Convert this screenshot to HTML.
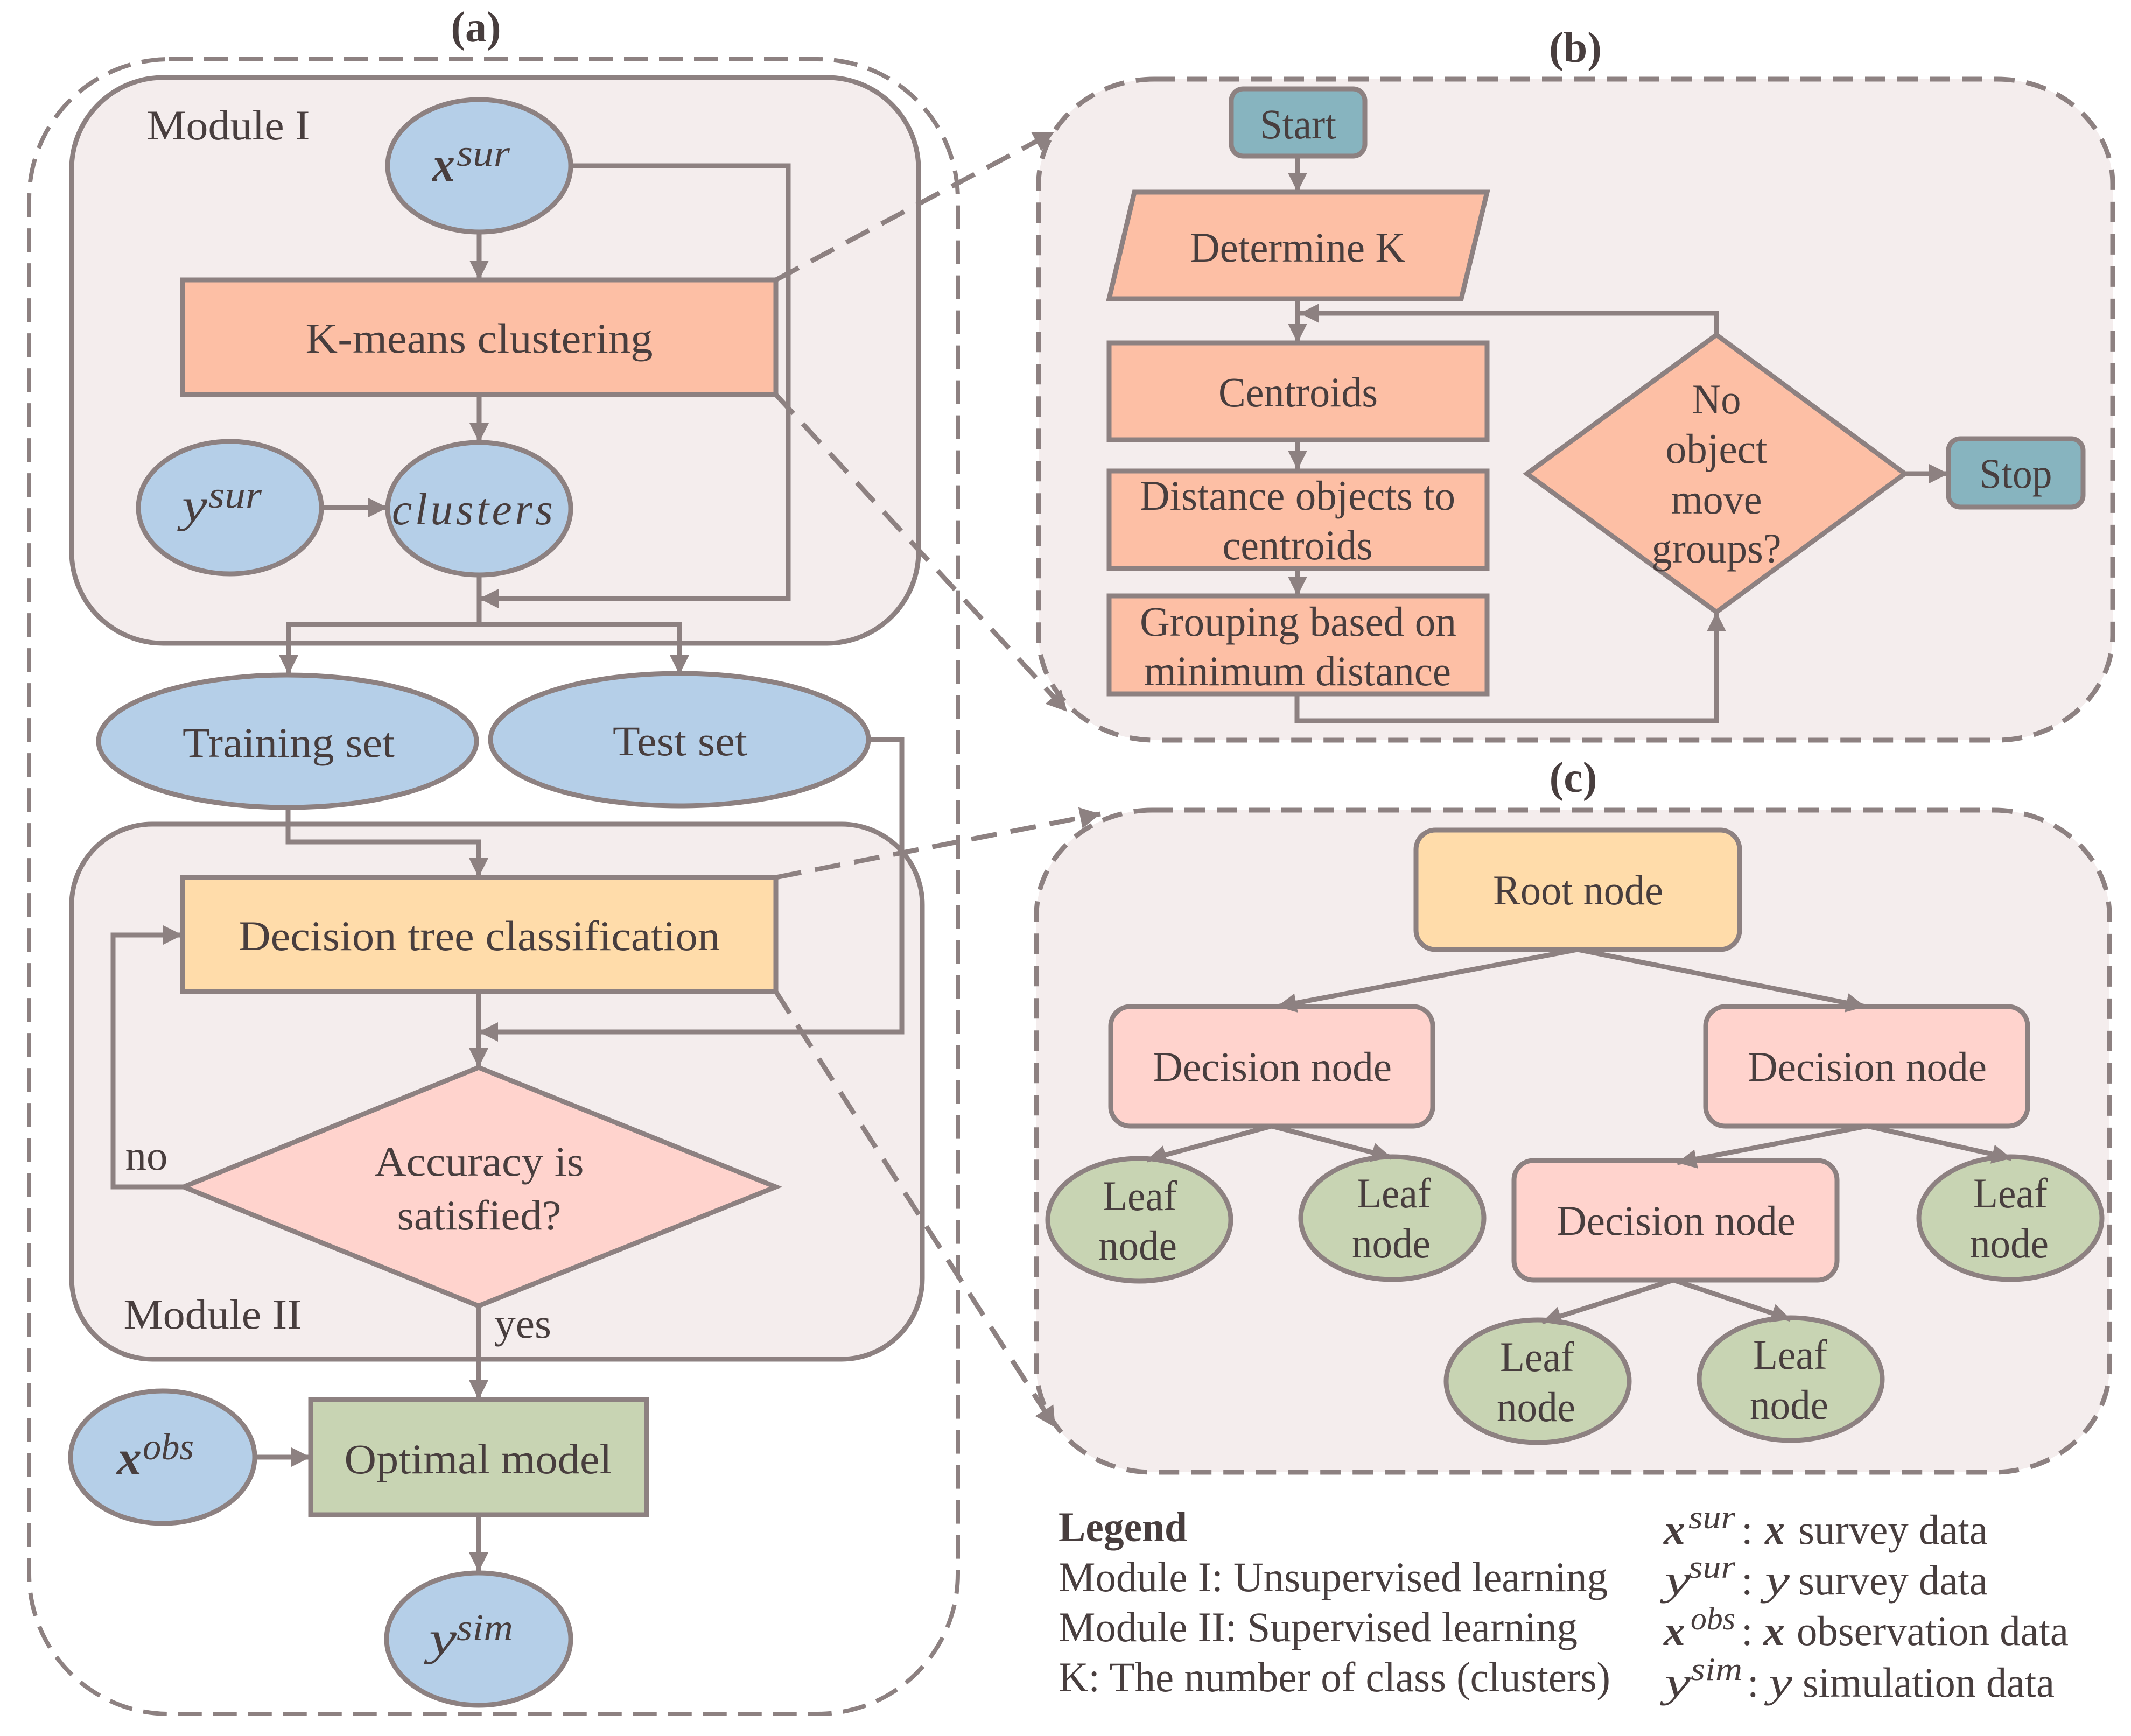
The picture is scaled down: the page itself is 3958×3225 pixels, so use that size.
<!DOCTYPE html>
<html>
<head>
<meta charset="utf-8">
<style>
html,body{margin:0;padding:0;background:#fff;width:3958px;height:3225px;overflow:hidden}
svg{display:block}
text{font-family:"Liberation Serif",serif;fill:#483e3e;font-size:78px;text-anchor:middle}
.l{text-anchor:start}
.b{font-weight:bold}
.bi{font-weight:bold;font-style:italic;text-anchor:start}
.i{font-style:italic;text-anchor:start}
.s{stroke:#8d8181;stroke-width:9;fill:none}
.a{marker-end:url(#arr)}
.d{stroke:#8d8181;stroke-width:9;fill:none;stroke-dasharray:48 26;marker-end:url(#arr2)}
.blue{fill:#b5cfe8}.org{fill:#fdbfa5}.yel{fill:#ffdcaa}.pnk{fill:#ffd3cd}.grn{fill:#c8d4b3}.tea{fill:#87b4bf}.pan{fill:#f4eded}
</style>
</head>
<body>
<svg width="3958" height="3225" viewBox="0 0 3958 3225" xmlns="http://www.w3.org/2000/svg">
<defs>
<marker id="arr" markerUnits="userSpaceOnUse" markerWidth="44" markerHeight="40" refX="36" refY="18" orient="auto"><path d="M0 0L36 18L0 36Z" fill="#8d8181"/></marker>
<marker id="arr2" markerUnits="userSpaceOnUse" markerWidth="44" markerHeight="44" refX="38" refY="20" orient="auto"><path d="M0 0L38 20L0 40Z" fill="#8d8181"/></marker>
</defs>
<rect width="3958" height="3225" fill="#fff"/>

<!-- outer a -->
<rect x="54" y="110" width="1725" height="3074" rx="260" ry="260" fill="none" stroke="#8d8181" stroke-width="8" stroke-dasharray="44 21"/>

<!-- panels b c -->
<rect x="1929" y="147" width="1995" height="1228" rx="215" ry="195" class="pan" stroke="#8d8181" stroke-width="9" stroke-dasharray="38 22"/>
<rect x="1925" y="1505" width="1993" height="1230" rx="215" ry="195" class="pan" stroke="#8d8181" stroke-width="9" stroke-dasharray="38 22"/>

<!-- module I -->
<rect x="133" y="144" width="1573" height="1051" rx="170" ry="170" class="pan s"/>
<!-- module II -->
<rect x="133" y="1531" width="1580" height="994" rx="150" ry="150" class="pan s"/>

<!-- module I connectors -->
<path class="s a" d="M890 431V520"/>
<path class="s a" d="M890 733V822"/>
<path class="s a" d="M597 943H720"/>
<path class="s" d="M890 1068V1160"/>
<path class="s a" d="M1060 308H1464V1112H890"/>
<path class="s a" d="M890 1160H536V1253"/>
<path class="s a" d="M890 1160H1262V1253"/>

<ellipse cx="890" cy="308" rx="170" ry="123" class="blue s"/>
<ellipse cx="890" cy="945" rx="170" ry="123" class="blue s"/>
<ellipse cx="427" cy="943" rx="170" ry="123" class="blue s"/>
<rect x="339" y="520" width="1102" height="213" class="org s"/>

<!-- set ellipses + module II connectors -->
<path class="s a" d="M535 1500V1564H889V1630"/>
<path class="s a" d="M1612 1374H1675V1917H889"/>
<path class="s a" d="M889 1842V1983"/>
<path class="s a" d="M342 2205H210V1737H339"/>
<path class="s a" d="M889 2426V2600"/>
<path class="s a" d="M473 2707H577"/>
<path class="s a" d="M889 2814V2920"/>

<ellipse cx="534" cy="1377" rx="351" ry="123" class="blue s"/>
<ellipse cx="1262" cy="1374" rx="351" ry="123" class="blue s"/>
<rect x="339" y="1630" width="1102" height="212" class="yel s"/>
<polygon points="889,1983 1441,2205 889,2426 341,2205" class="pnk s"/>
<rect x="577" y="2600" width="624" height="214" class="grn s"/>
<ellipse cx="302" cy="2707" rx="171" ry="123" class="blue s"/>
<ellipse cx="889" cy="3045" rx="171" ry="123" class="blue s"/>

<!-- panel b -->
<path class="s a" d="M2410 290V357"/>
<path class="s a" d="M2410 555V637"/>
<path class="s a" d="M2410 817V873"/>
<path class="s a" d="M2410 1056V1107"/>
<path class="s a" d="M3188 622V582H2414"/>
<path class="s a" d="M2409 1289V1339H3188V1137"/>
<path class="s a" d="M3538 880H3619"/>
<rect x="2287" y="165" width="248" height="125" rx="22" ry="22" class="tea s"/>
<polygon points="2107,357 2762,357 2714,555 2060,555" class="org s"/>
<rect x="2060" y="637" width="702" height="180" class="org s"/>
<rect x="2060" y="875" width="702" height="181" class="org s"/>
<rect x="2060" y="1107" width="702" height="182" class="org s"/>
<polygon points="3188,622 3538,880 3188,1137 2836,880" class="org s"/>
<rect x="3619" y="815" width="250" height="127" rx="22" ry="22" class="tea s"/>

<!-- panel c -->
<rect x="2630" y="1542" width="601" height="222" rx="36" ry="36" class="yel s"/>
<rect x="2063" y="1870" width="598" height="222" rx="36" ry="36" class="pnk s"/>
<rect x="3168" y="1870" width="598" height="222" rx="36" ry="36" class="pnk s"/>
<rect x="2812" y="2156" width="600" height="222" rx="36" ry="36" class="pnk s"/>
<ellipse cx="2116" cy="2266" rx="170" ry="114" class="grn s"/>
<ellipse cx="2586" cy="2263" rx="170" ry="114" class="grn s"/>
<ellipse cx="3734" cy="2263" rx="170" ry="114" class="grn s"/>
<ellipse cx="2856" cy="2566" rx="170" ry="114" class="grn s"/>
<ellipse cx="3326" cy="2562" rx="170" ry="114" class="grn s"/>
<path class="s a" d="M2930 1764L2372 1870"/>
<path class="s a" d="M2930 1764L3465 1870"/>
<path class="s a" d="M2362 2092L2130 2155"/>
<path class="s a" d="M2362 2092L2584 2150"/>
<path class="s a" d="M3468 2092L3115 2160"/>
<path class="s a" d="M3468 2092L3736 2152"/>
<path class="s a" d="M3108 2378L2864 2456"/>
<path class="s a" d="M3108 2378L3326 2451"/>

<!-- dashed connectors -->
<path class="d" d="M1441 520L1958 245"/>
<path class="d" d="M1441 733L1982 1322"/>
<path class="d" d="M1441 1630L2044 1512"/>
<path class="d" d="M1441 1842L1960 2652"/>

<!-- titles -->
<text class="b" x="884" y="77" style="font-size:80px">(a)</text>
<text class="b" x="2926" y="115" style="font-size:80px">(b)</text>
<text class="b" x="2922" y="1471" style="font-size:80px">(c)</text>

<!-- module I text -->
<text x="424" y="259" textLength="303" lengthAdjust="spacingAndGlyphs">Module I</text>
<text class="bi" x="803" y="336" style="font-size:92px" textLength="42" lengthAdjust="spacingAndGlyphs">x</text>
<text class="i" x="848" y="308" style="font-size:70px" textLength="99" lengthAdjust="spacingAndGlyphs">sur</text>
<text x="890" y="655" textLength="645" lengthAdjust="spacingAndGlyphs">K-means clustering</text>
<text class="i" x="338" y="968" style="font-size:88px" textLength="47" lengthAdjust="spacingAndGlyphs">y</text>
<text class="i" x="387" y="943" style="font-size:70px" textLength="99" lengthAdjust="spacingAndGlyphs">sur</text>
<text class="i" x="728" y="974" style="font-size:84px" textLength="299" lengthAdjust="spacing">clusters</text>

<text x="536" y="1406" textLength="394" lengthAdjust="spacingAndGlyphs">Training set</text>
<text x="1263" y="1403" textLength="250" lengthAdjust="spacingAndGlyphs">Test set</text>
<text x="890" y="1765" textLength="894" lengthAdjust="spacingAndGlyphs">Decision tree classification</text>
<text x="890" y="2184" textLength="389" lengthAdjust="spacingAndGlyphs">Accuracy is</text>
<text x="890" y="2284" textLength="305" lengthAdjust="spacingAndGlyphs">satisfied?</text>
<text x="272" y="2173" textLength="79" lengthAdjust="spacingAndGlyphs">no</text>
<text x="395" y="2468" textLength="331" lengthAdjust="spacingAndGlyphs">Module II</text>
<text x="971" y="2485" textLength="106" lengthAdjust="spacingAndGlyphs">yes</text>
<text x="888" y="2737" textLength="497" lengthAdjust="spacingAndGlyphs">Optimal model</text>
<text class="bi" x="217" y="2739" style="font-size:92px" textLength="46" lengthAdjust="spacingAndGlyphs">x</text>
<text class="i" x="265" y="2711" style="font-size:70px" textLength="95" lengthAdjust="spacingAndGlyphs">obs</text>
<text class="i" x="797" y="3073" style="font-size:88px" textLength="51" lengthAdjust="spacingAndGlyphs">y</text>
<text class="i" x="848" y="3047" style="font-size:70px" textLength="105" lengthAdjust="spacingAndGlyphs">sim</text>

<!-- panel b text -->
<text x="2411" y="257" textLength="142" lengthAdjust="spacingAndGlyphs">Start</text>
<text x="2410" y="486" textLength="400" lengthAdjust="spacingAndGlyphs">Determine K</text>
<text x="2411" y="755" textLength="296" lengthAdjust="spacingAndGlyphs">Centroids</text>
<text x="2410" y="947" textLength="586" lengthAdjust="spacingAndGlyphs">Distance objects to</text>
<text x="2410" y="1039" textLength="279" lengthAdjust="spacingAndGlyphs">centroids</text>
<text x="2411" y="1181" textLength="588" lengthAdjust="spacingAndGlyphs">Grouping based on</text>
<text x="2410" y="1273" textLength="570" lengthAdjust="spacingAndGlyphs">minimum distance</text>
<text x="3188" y="768" textLength="91" lengthAdjust="spacingAndGlyphs">No</text>
<text x="3188" y="860" textLength="189" lengthAdjust="spacingAndGlyphs">object</text>
<text x="3188" y="954" textLength="169" lengthAdjust="spacingAndGlyphs">move</text>
<text x="3188" y="1045" textLength="241" lengthAdjust="spacingAndGlyphs">groups?</text>
<text x="3744" y="906" textLength="135" lengthAdjust="spacingAndGlyphs">Stop</text>

<!-- panel c text -->
<text x="2931" y="1680" textLength="316" lengthAdjust="spacingAndGlyphs">Root node</text>
<text x="2363" y="2008" textLength="444" lengthAdjust="spacingAndGlyphs">Decision node</text>
<text x="3468" y="2008" textLength="444" lengthAdjust="spacingAndGlyphs">Decision node</text>
<text x="3113" y="2294" textLength="444" lengthAdjust="spacingAndGlyphs">Decision node</text>
<text x="2117" y="2248" textLength="138" lengthAdjust="spacingAndGlyphs">Leaf</text>
<text x="2113" y="2340" textLength="146" lengthAdjust="spacingAndGlyphs">node</text>
<text x="2589" y="2243" textLength="138" lengthAdjust="spacingAndGlyphs">Leaf</text>
<text x="2584" y="2336" textLength="146" lengthAdjust="spacingAndGlyphs">node</text>
<text x="3734" y="2243" textLength="138" lengthAdjust="spacingAndGlyphs">Leaf</text>
<text x="3732" y="2336" textLength="146" lengthAdjust="spacingAndGlyphs">node</text>
<text x="2855" y="2547" textLength="138" lengthAdjust="spacingAndGlyphs">Leaf</text>
<text x="2853" y="2640" textLength="146" lengthAdjust="spacingAndGlyphs">node</text>
<text x="3325" y="2543" textLength="138" lengthAdjust="spacingAndGlyphs">Leaf</text>
<text x="3323" y="2636" textLength="146" lengthAdjust="spacingAndGlyphs">node</text>

<!-- legend -->
<text class="l b" x="1966" y="2863" textLength="239" lengthAdjust="spacingAndGlyphs">Legend</text>
<text class="l" x="1966" y="2956" textLength="1020" lengthAdjust="spacingAndGlyphs">Module I: Unsupervised learning</text>
<text class="l" x="1966" y="3049" textLength="964" lengthAdjust="spacingAndGlyphs">Module II: Supervised learning</text>
<text class="l" x="1966" y="3142" textLength="1025" lengthAdjust="spacingAndGlyphs">K: The number of class (clusters)</text>

<text class="bi" x="3090" y="2868" textLength="40" lengthAdjust="spacingAndGlyphs">x</text>
<text class="i" x="3136" y="2839" style="font-size:60px" textLength="87" lengthAdjust="spacingAndGlyphs">sur</text>
<text class="l" x="3234" y="2868">:</text>
<text class="bi" x="3278" y="2868" textLength="37" lengthAdjust="spacingAndGlyphs">x</text>
<text class="l" x="3340" y="2868" textLength="352" lengthAdjust="spacingAndGlyphs">survey data</text>

<text class="i" x="3092" y="2962" textLength="48" lengthAdjust="spacingAndGlyphs">y</text>
<text class="i" x="3136" y="2931" style="font-size:60px" textLength="87" lengthAdjust="spacingAndGlyphs">sur</text>
<text class="l" x="3234" y="2962">:</text>
<text class="i" x="3278" y="2962" textLength="46" lengthAdjust="spacingAndGlyphs">y</text>
<text class="l" x="3340" y="2962" textLength="352" lengthAdjust="spacingAndGlyphs">survey data</text>

<text class="bi" x="3090" y="3056" textLength="40" lengthAdjust="spacingAndGlyphs">x</text>
<text class="i" x="3140" y="3027" style="font-size:60px" textLength="83" lengthAdjust="spacingAndGlyphs">obs</text>
<text class="l" x="3234" y="3056">:</text>
<text class="bi" x="3275" y="3056" textLength="40" lengthAdjust="spacingAndGlyphs">x</text>
<text class="l" x="3337" y="3056" textLength="505" lengthAdjust="spacingAndGlyphs">observation data</text>

<text class="i" x="3092" y="3152" textLength="48" lengthAdjust="spacingAndGlyphs">y</text>
<text class="i" x="3140" y="3121" style="font-size:60px" textLength="96" lengthAdjust="spacingAndGlyphs">sim</text>
<text class="l" x="3245" y="3152">:</text>
<text class="i" x="3285" y="3152" textLength="44" lengthAdjust="spacingAndGlyphs">y</text>
<text class="l" x="3348" y="3152" textLength="468" lengthAdjust="spacingAndGlyphs">simulation data</text>
</svg>
</body>
</html>
